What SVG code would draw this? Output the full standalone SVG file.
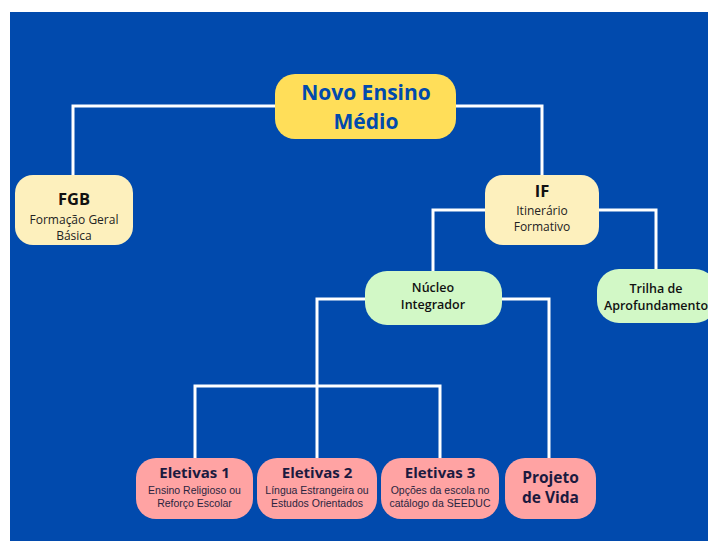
<svg xmlns="http://www.w3.org/2000/svg" width="708" height="541" viewBox="0 0 708 541">
<style>
.bg{fill:#014AAD}
.c{fill:none;stroke:#FFFFFF;stroke-width:3}
.root{fill:#FFDE59}
.cream{fill:#FDF0BD}
.green{fill:#D2F8C6}
.pink{fill:#FFA3A3}
text{font-family:"Open Sans","Noto Sans","Liberation Sans",sans-serif;text-anchor:middle}
.rt{font-size:21px;font-weight:700;fill:#014AAD}
.h{font-size:16.5px;font-weight:700;fill:#111111}
.s{font-size:12px;fill:#222222}
.g{font-size:12.5px;font-weight:600;fill:#111111}
.eh{font-size:15px;font-weight:700;fill:#1B1A3F}
.es{font-family:"Liberation Sans","Noto Sans",sans-serif;font-size:10.5px;fill:#2A2540}
.pv{font-size:15.5px;font-weight:700;fill:#1B1A3F}
</style>
<rect x="0" y="0" width="708" height="541" fill="#FFFFFF"/>
<rect class="bg" x="10" y="12" width="698" height="529"/>
<g id="connectors">
<polyline class="c" points="275,106 73,106 73,176"/>
<polyline class="c" points="456,106 542,106 542,176"/>
<polyline class="c" points="485,210 433,210 433,272"/>
<polyline class="c" points="599,210 656,210 656,270"/>
<polyline class="c" points="365,299 317,299 317,459"/>
<polyline class="c" points="195,459 195,386 440,386 440,459"/>
<polyline class="c" points="502,299 549,299 549,459"/>
</g>
<g id="novo-ensino-medio">
<rect class="root" x="275" y="74" width="181" height="65" rx="20"/>
<text class="rt" x="366" y="100">Novo Ensino</text>
<text class="rt" x="366" y="129">Médio</text>
</g>
<g id="fgb">
<rect class="cream" x="15" y="175" width="118" height="70" rx="18"/>
<text class="h" x="74" y="205">FGB</text>
<text class="s" x="74" y="224">Formação Geral</text>
<text class="s" x="74" y="240">Básica</text>
</g>
<g id="if">
<rect class="cream" x="485" y="175" width="114" height="70" rx="18"/>
<text class="h" x="542" y="197">IF</text>
<text class="s" x="542" y="215">Itinerário</text>
<text class="s" x="542" y="231">Formativo</text>
</g>
<g id="nucleo-integrador">
<rect class="green" x="365" y="271" width="137" height="54" rx="22"/>
<text class="g" x="433" y="292">Núcleo</text>
<text class="g" x="433" y="309">Integrador</text>
</g>
<g id="trilha-aprofundamento">
<rect class="green" x="597" y="269" width="120" height="54" rx="22"/>
<text class="g" x="656" y="293">Trilha de</text>
<text class="g" x="656" y="310">Aprofundamento</text>
</g>
<g id="eletivas-1">
<rect class="pink" x="136" y="458" width="117" height="61" rx="20"/>
<text class="eh" x="194.5" y="478">Eletivas 1</text>
<text class="es" x="194.5" y="494">Ensino Religioso ou</text>
<text class="es" x="194.5" y="507">Reforço Escolar</text>
</g>
<g id="eletivas-2">
<rect class="pink" x="257" y="458" width="120" height="61" rx="20"/>
<text class="eh" x="317" y="478">Eletivas 2</text>
<text class="es" x="317" y="494">Língua Estrangeira ou</text>
<text class="es" x="317" y="507">Estudos Orientados</text>
</g>
<g id="eletivas-3">
<rect class="pink" x="381" y="458" width="118" height="61" rx="20"/>
<text class="eh" x="440" y="478">Eletivas 3</text>
<text class="es" x="440" y="494">Opções da escola no</text>
<text class="es" x="440" y="507">catálogo da SEEDUC</text>
</g>
<g id="projeto-de-vida">
<rect class="pink" x="505" y="458" width="91" height="61" rx="20"/>
<text class="pv" x="550.5" y="483">Projeto</text>
<text class="pv" x="550.5" y="503">de Vida</text>
</g>
</svg>
